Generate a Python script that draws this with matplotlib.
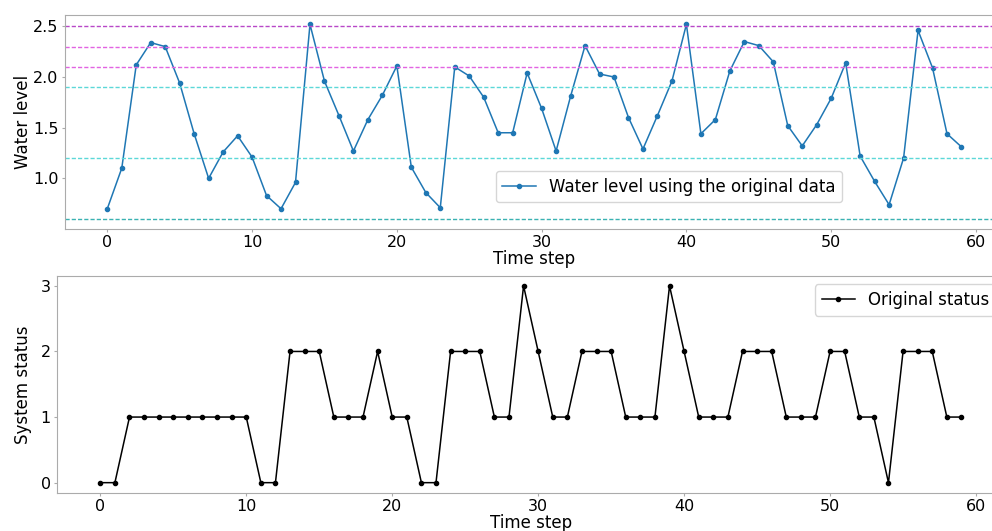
import matplotlib
matplotlib.use("Agg")
import matplotlib.pyplot as plt

time_steps = list(range(60))
water_level = [0.70, 1.10, 2.12, 2.34, 2.30, 1.94, 1.44, 1.00, 1.26, 1.42,
               1.21, 0.83, 0.70, 0.96, 2.52, 1.96, 1.62, 1.27, 1.58, 1.82,
               2.11, 1.11, 0.86, 0.71, 2.10, 2.01, 1.80, 1.45, 1.45, 2.04,
               1.69, 1.27, 1.81, 2.31, 2.03, 2.00, 1.60, 1.29, 1.62, 1.96,
               2.52, 1.44, 1.58, 2.06, 2.35, 2.31, 2.15, 1.52, 1.32, 1.53,
               1.79, 2.14, 1.22, 0.97, 0.74, 1.20, 2.46, 2.09, 1.44, 1.31]
status = [0, 0, 1, 1, 1, 1, 1, 1, 1, 1,
          1, 0, 0, 2, 2, 2, 1, 1, 1, 2,
          1, 1, 0, 0, 2, 2, 2, 1, 1, 3,
          2, 1, 1, 2, 2, 2, 1, 1, 1, 3,
          2, 1, 1, 1, 2, 2, 2, 1, 1, 1,
          2, 2, 1, 1, 0, 2, 2, 2, 1, 1]
upper_thresholds = [2.5, 2.3, 2.1]
lower_thresholds = [1.9, 1.2, 0.6]

FS = 12
TFS = 11.5
SPINE = '#ababab'

fig = plt.figure(figsize=(9.92, 5.31), dpi=100)
ax1 = fig.add_axes([0.0651, 0.5687, 0.9472, 0.4036])
ax2 = fig.add_axes([0.0577, 0.0725, 0.9549, 0.4077])

ax1.plot(time_steps, water_level, '.-', color='#1f77b4', lw=1.1, ms=6,
         label='Water level using the original data')
up_cols = ['#b848c8', '#e264e2', '#e264e2']
for y, c in zip(upper_thresholds, up_cols):
    ax1.axhline(y, color=c, ls='--', lw=1.0, dashes=(3, 1.5))
low_cols = ['#5cd8d8', '#5cd8d8', '#3ab2b2']
for y, c in zip(lower_thresholds, low_cols):
    ax1.axhline(y, color=c, ls='--', lw=1.0, dashes=(3, 1.5))
ax1.set_xlim(-2.95, 61.95)
ax1.set_ylim(0.5, 2.615)
ax1.set_yticks([1.0, 1.5, 2.0, 2.5])
ax1.set_xticks([0, 10, 20, 30, 40, 50, 60])
ax1.set_xlabel('Time step', fontsize=FS, labelpad=0)
ax1.set_ylabel('Water level', fontsize=FS, labelpad=0.5)
ax1.legend(fontsize=FS, loc='lower left', bbox_to_anchor=(0.4588, 0.1246),
           borderaxespad=0)

ax2.plot(time_steps, status, '.-', color='black', lw=1.1, ms=6,
         label='Original status')
ax2.set_xlim(-2.95, 61.95)
ax2.set_ylim(-0.15, 3.15)
ax2.set_yticks([0, 1, 2, 3])
ax2.set_xticks([0, 10, 20, 30, 40, 50, 60])
ax2.set_xlabel('Time step', fontsize=FS, labelpad=0)
ax2.set_ylabel('System status', fontsize=FS, labelpad=6.5)
ax2.legend(fontsize=FS, loc='upper right')

for ax in (ax1, ax2):
    for s in ax.spines.values():
        s.set_color(SPINE)
    ax.tick_params(labelsize=TFS, color=SPINE, length=2, pad=2.5)

fig.savefig('out.png', dpi=100)
